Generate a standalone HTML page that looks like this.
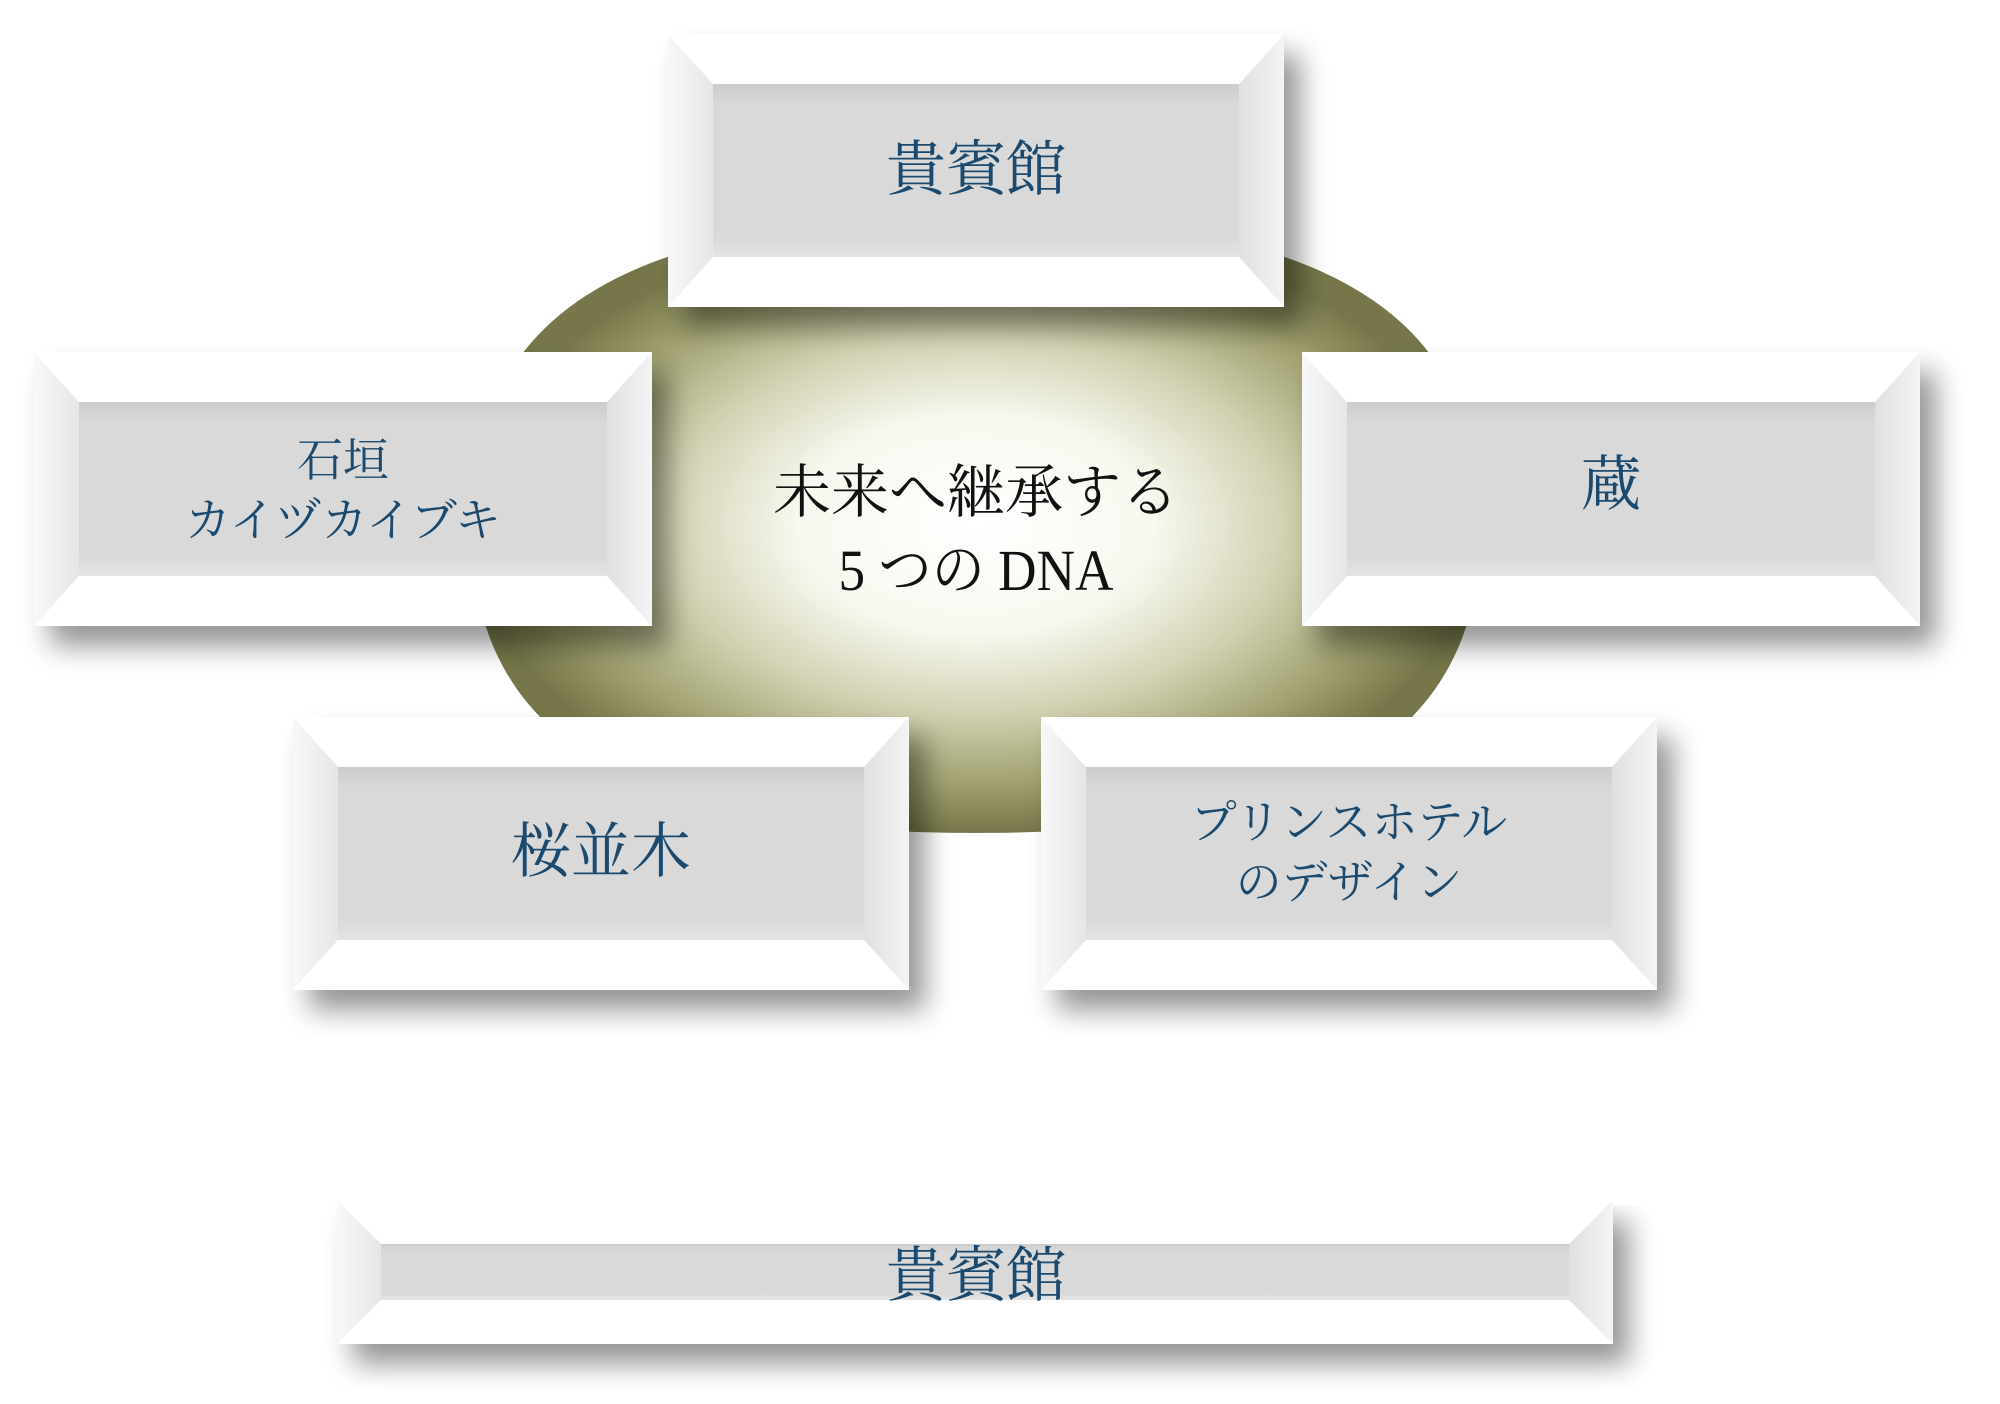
<!DOCTYPE html>
<html><head><meta charset="utf-8"><style>
html,body{margin:0;padding:0;background:#fff}
svg{display:block}
text{font-family:"Liberation Serif","Noto Serif CJK JP","Noto Serif CJK SC",serif}
</style></head><body>
<svg width="2000" height="1404" viewBox="0 0 2000 1404" xmlns="http://www.w3.org/2000/svg">
<defs>
<radialGradient id="eg" cx="50%" cy="50%" r="50%">
<stop offset="0" stop-color="#ffffff"/>
<stop offset="0.35" stop-color="#f8f8f0"/>
<stop offset="0.62" stop-color="#d0d0b0"/>
<stop offset="0.84" stop-color="#a0a070"/>
<stop offset="1" stop-color="#76764a"/>
</radialGradient>
<filter id="sh" x="-10%" y="-10%" width="130%" height="140%">
<feGaussianBlur in="SourceAlpha" stdDeviation="14"/>
<feOffset dx="16" dy="20"/>
<feComponentTransfer><feFuncA type="linear" slope="0.42"/></feComponentTransfer>
<feMerge><feMergeNode/><feMergeNode in="SourceGraphic"/></feMerge>
</filter>
<linearGradient id="lg" x1="0" x2="1"><stop offset="0" stop-color="#f8f8f8"/><stop offset="1" stop-color="#e6e6e6"/></linearGradient>
<linearGradient id="rg" x1="0" x2="1"><stop offset="0" stop-color="#e0e0e0"/><stop offset="1" stop-color="#f4f4f4"/></linearGradient>
<linearGradient id="cg" x1="0" y1="0" x2="0" y2="1"><stop offset="0" stop-color="#cccccc"/><stop offset="0.12" stop-color="#d9d9d9"/><stop offset="0.88" stop-color="#d9d9d9"/><stop offset="1" stop-color="#e4e4e4"/></linearGradient>
</defs>
<path d="M1481,525 C1481,737 1325,833 976,833 C627,833 471,737 471,525 C471,313 627,217 976,217 C1325,217 1481,313 1481,525 Z" fill="url(#eg)"/>

<g filter="url(#sh)">
<rect x="668" y="34" width="616" height="273" fill="#fff"/>
<polygon points="668,34 713,84 713,257 668,307" fill="url(#lg)"/>
<polygon points="1284,34 1239,84 1239,257 1284,307" fill="url(#rg)"/>
<rect x="713" y="84" width="526" height="173" fill="url(#cg)"/>
</g>
<g filter="url(#sh)">
<rect x="34" y="352" width="618" height="274" fill="#fff"/>
<polygon points="34,352 79,402 79,576 34,626" fill="url(#lg)"/>
<polygon points="652,352 607,402 607,576 652,626" fill="url(#rg)"/>
<rect x="79" y="402" width="528" height="174" fill="url(#cg)"/>
</g>
<g filter="url(#sh)">
<rect x="1302" y="352" width="618" height="274" fill="#fff"/>
<polygon points="1302,352 1347,402 1347,576 1302,626" fill="url(#lg)"/>
<polygon points="1920,352 1875,402 1875,576 1920,626" fill="url(#rg)"/>
<rect x="1347" y="402" width="528" height="174" fill="url(#cg)"/>
</g>
<g filter="url(#sh)">
<rect x="293" y="717" width="616" height="273" fill="#fff"/>
<polygon points="293,717 338,767 338,940 293,990" fill="url(#lg)"/>
<polygon points="909,717 864,767 864,940 909,990" fill="url(#rg)"/>
<rect x="338" y="767" width="526" height="173" fill="url(#cg)"/>
</g>
<g filter="url(#sh)">
<rect x="1041" y="717" width="616" height="273" fill="#fff"/>
<polygon points="1041,717 1086,767 1086,940 1041,990" fill="url(#lg)"/>
<polygon points="1657,717 1612,767 1612,940 1657,990" fill="url(#rg)"/>
<rect x="1086" y="767" width="526" height="173" fill="url(#cg)"/>
</g>
<g filter="url(#sh)">
<rect x="337" y="1200" width="1276" height="144" fill="#fff"/>
<polygon points="337,1200 381,1244 381,1300 337,1344" fill="url(#lg)"/>
<polygon points="1613,1200 1569,1244 1569,1300 1613,1344" fill="url(#rg)"/>
<rect x="381" y="1244" width="1188" height="56" fill="url(#cg)"/>
</g>

<g fill="#1b4a6e" text-anchor="middle">
<text x="976" y="190" font-size="60">貴賓館</text>
<text x="343" y="476" font-size="46">石垣</text>
<text x="343" y="536" font-size="46">カイヅカイブキ</text>
<text x="1611" y="505" font-size="60">蔵</text>
<text x="601" y="872" font-size="60">桜並木</text>
<text x="1349" y="838" font-size="46">プリンスホテル</text>
<text x="1349" y="898" font-size="46">のデザイン</text>
<text x="976" y="1296" font-size="60">貴賓館</text>
</g>
<g fill="#111" text-anchor="middle" font-size="58">
<text x="976" y="512">未来へ継承する</text>
<text x="976" y="590" textLength="275" lengthAdjust="spacingAndGlyphs">5 つの DNA</text>
</g>
</svg>
</body></html>
